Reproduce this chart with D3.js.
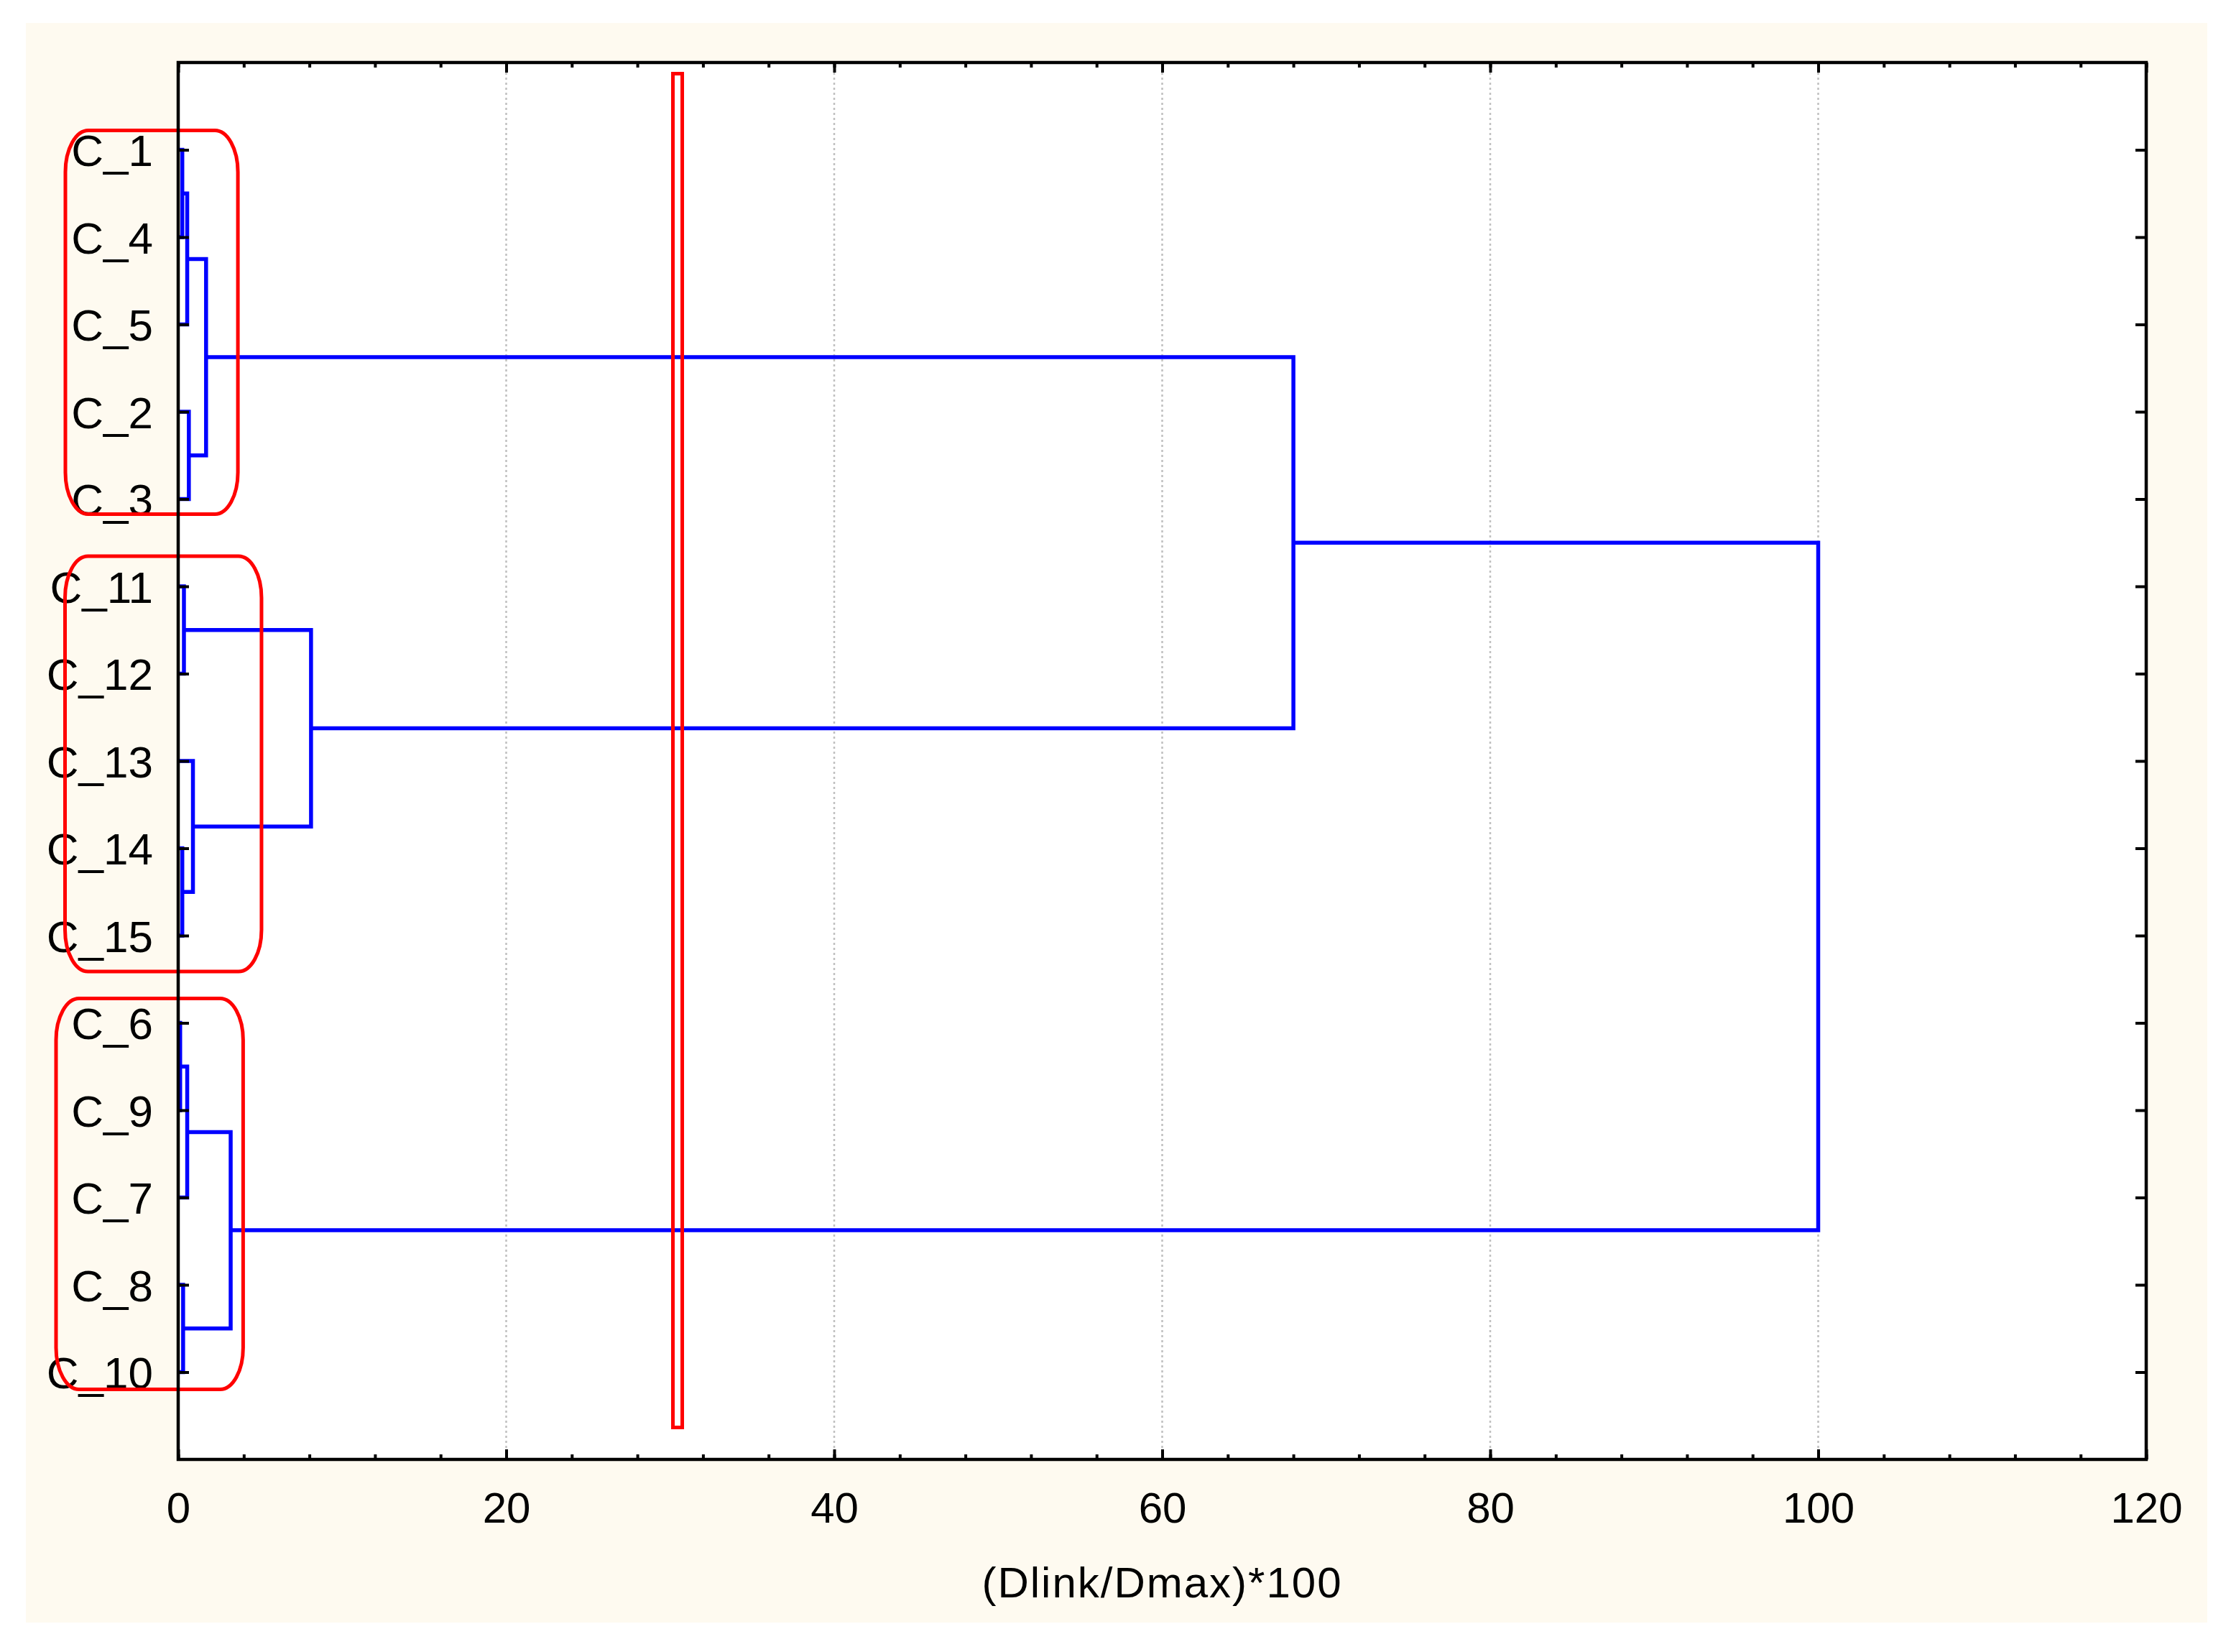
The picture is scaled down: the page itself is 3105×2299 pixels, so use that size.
<!DOCTYPE html>
<html>
<head>
<meta charset="utf-8">
<script src="https://cdn.jsdelivr.net/npm/d3@7"></script>
<style>
  body { margin: 0; background: #fff; }
  text { font-family: "Liberation Sans", Arial, sans-serif; }
</style>
</head>
<body>
<div id="chart"></div>
<script>
// leaf order, top to bottom
const leaves = ["C_1", "C_4", "C_5", "C_2", "C_3", "C_11", "C_12", "C_13", "C_14", "C_15", "C_6", "C_9", "C_7", "C_8", "C_10"];

// joins n1..n14: left child, right child, linkage distance (Dlink/Dmax)*100
const joinLeft  = ["C_1", "n1", "C_2", "n2", "C_11", "C_14", "C_13", "n5", "n4", "C_6", "n10", "C_8", "n11", "n9"];
const joinRight = ["C_4", "C_5", "C_3", "n3", "C_12", "C_15", "n6", "n7", "n8", "C_9", "C_7", "C_10", "n12", "n13"];
const joinDist  = [0.25, 0.55, 0.65, 1.7, 0.35, 0.25, 0.9, 8.1, 68, 0.12, 0.55, 0.3, 3.2, 100];

const xTicks = [0, 20, 40, 60, 80, 100, 120];
const xMinor = d3.range(0, 121, 4);
const xTitle = "(Dlink/Dmax)*100";

// cut level marked with the red bar
const cutLevel = 30.45;

// clusters circled in red
const clusterFirst = ["C_1", "C_11", "C_6"];
const clusterLast  = ["C_3", "C_15", "C_10"];
const clusterReach = [3.64, 5.08, 3.96];

function draw() {
    const W = 3105, H = 2299;
    const left = 248, right = 2987, top = 87, bottom = 2031;

    const svg = d3.select("#chart").append("svg")
        .attr("width", W)
        .attr("height", H);

    svg.append("rect").attr("width", W).attr("height", H).attr("fill", "#fff");
    svg.append("rect")
        .attr("x", 36).attr("y", 32)
        .attr("width", 3072 - 36).attr("height", 2258 - 32)
        .attr("fill", "#fefaf0");
    svg.append("rect")
        .attr("x", left).attr("y", top)
        .attr("width", right - left).attr("height", bottom - top)
        .attr("fill", "#fff");

    const x = d3.scaleLinear().domain([0, 120]).range([left, right]);
    const y = d3.scalePoint().domain(leaves).range([top, bottom]).padding(1);

    // dotted grid
    svg.append("g")
        .selectAll("line")
        .data(xTicks.filter(d => d > 0 && d < 120))
        .enter().append("line")
        .attr("x1", d => x(d)).attr("x2", d => x(d))
        .attr("y1", top).attr("y2", bottom)
        .attr("stroke", "#c0c0c0")
        .attr("stroke-width", 2.5)
        .attr("stroke-dasharray", "3,4");

    // node positions
    const pos = {};
    leaves.forEach(l => { pos[l] = { h: 0, y: y(l) }; });
    const joins = joinDist.map((d, i) => {
        const a = pos[joinLeft[i]], b = pos[joinRight[i]];
        pos["n" + (i + 1)] = { h: d, y: (a.y + b.y) / 2 };
        return { a, b, d };
    });

    svg.append("g")
        .selectAll("path")
        .data(joins)
        .enter().append("path")
        .attr("d", j => `M${x(j.a.h)},${j.a.y}H${x(j.d)}V${j.b.y}H${x(j.b.h)}`)
        .attr("fill", "none")
        .attr("stroke", "#0000ff")
        .attr("stroke-width", 5.5);

    // axes
    const tidy = g => {
        g.select(".domain").remove();
        g.selectAll(".tick line").attr("stroke", "#000").attr("stroke-width", 4);
        g.selectAll("text").attr("font-size", 60).attr("fill", "#000");
    };

    svg.append("g").attr("transform", `translate(0,${bottom})`)
        .call(d3.axisBottom(x).tickValues(xMinor).tickSize(-7).tickFormat(""))
        .call(tidy);
    svg.append("g").attr("transform", `translate(0,${bottom})`)
        .call(d3.axisBottom(x).tickValues(xTicks).tickSize(-14).tickPadding(45).tickFormat(d3.format("d")))
        .call(tidy);
    svg.append("g").attr("transform", `translate(0,${top})`)
        .call(d3.axisTop(x).tickValues(xMinor).tickSize(-7).tickFormat(""))
        .call(tidy);
    svg.append("g").attr("transform", `translate(0,${top})`)
        .call(d3.axisTop(x).tickValues(xTicks).tickSize(-14).tickFormat(""))
        .call(tidy);

    const yl = svg.append("g").attr("transform", `translate(${left},0)`)
        .call(d3.axisLeft(y).tickSize(-15).tickPadding(35))
        .call(tidy);
    yl.selectAll("text").attr("font-size", 62).attr("dy", "0.36em");
    svg.append("g").attr("transform", `translate(${right},0)`)
        .call(d3.axisRight(y).tickSize(-15).tickFormat(""))
        .call(tidy);

    // red cut bar
    svg.append("rect")
        .attr("x", x(cutLevel) - 6.5).attr("y", top + 15.5)
        .attr("width", 13).attr("height", bottom - top - 15.5 - 44.5)
        .attr("fill", "none")
        .attr("stroke", "#ff0000")
        .attr("stroke-width", 5);

    // red cluster boxes
    const pads = [[157, 27, 21], [157.5, 42, 50], [170, 34, 24]];
    svg.append("g")
        .selectAll("rect")
        .data(clusterFirst.map((f, i) => ({ f, l: clusterLast[i], r: clusterReach[i], p: pads[i] })))
        .enter().append("rect")
        .attr("x", d => x(0) - d.p[0])
        .attr("y", d => y(d.f) - d.p[1])
        .attr("width", d => x(d.r) - x(0) + d.p[0])
        .attr("height", d => y(d.l) - y(d.f) + d.p[1] + d.p[2])
        .attr("rx", 32).attr("ry", 58)
        .attr("fill", "none")
        .attr("stroke", "#ff0000")
        .attr("stroke-width", 5);

    // frame
    svg.append("rect")
        .attr("x", left).attr("y", top)
        .attr("width", right - left).attr("height", bottom - top)
        .attr("fill", "none")
        .attr("stroke", "#000")
        .attr("stroke-width", 4.5);

    svg.append("text")
        .attr("x", (left + right) / 2)
        .attr("y", 2223)
        .attr("text-anchor", "middle")
        .attr("font-size", 60)
        .attr("letter-spacing", 2)
        .text(xTitle);
}

window.onload = function() {
    draw();
};
</script>
</body>
</html>
